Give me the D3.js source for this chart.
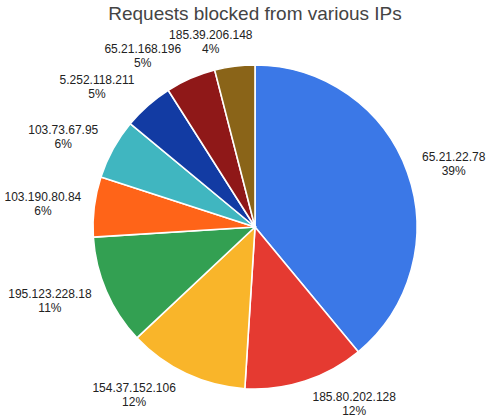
<!DOCTYPE html>
<html>
<head>
<meta charset="utf-8">
<script src="https://cdn.jsdelivr.net/npm/d3@7"></script>
<style>
  body { margin: 0; background: #fff; }
  text { font-family: Arial, 'Liberation Sans', sans-serif; }
</style>
</head>
<body>
<div id="chart"></div>
<script>
const title = 'Requests blocked from various IPs';
const ips = ['65.21.22.78', '185.80.202.128', '154.37.152.106', '195.123.228.18',
    '103.190.80.84', '103.73.67.95', '5.252.118.211', '65.21.168.196', '185.39.206.148'];
const shares = [39, 12, 12, 11, 6, 6, 5, 5, 4];
const colors = ['#3b78e7', '#e53a31', '#f9b52a', '#33a052', '#ff6418',
    '#40b6c0', '#123ba3', '#8f1818', '#8a6418'];

function drawPie() {
    const width = 489;
    const height = 420;
    const cx = 255;
    const cy = 227;
    const radius = 162;
    const labelRadius = 186;   // where the label block sits vertically
    const clearRadius = 174;   // labels are pulled in to hug this circle

    const data = ips.map((ip, i) => ({ ip, value: shares[i] }));
    const total = d3.sum(shares);

    const svg = d3.select('#chart').append('svg')
        .attr('width', width)
        .attr('height', height);

    svg.append('text')
        .attr('x', cx)
        .attr('y', 20)
        .attr('text-anchor', 'middle')
        .style('font-size', '19px')
        .style('fill', '#444')
        .text(title);

    const pie = d3.pie()
        .sort(null)
        .value((d) => d.value);

    const arc = d3.arc()
        .innerRadius(0)
        .outerRadius(radius);

    const color = d3.scaleOrdinal()
        .domain(ips)
        .range(colors);

    const g = svg.append('g')
        .attr('transform', `translate(${cx}, ${cy})`);

    const arcs = pie(data);

    g.selectAll('path')
        .data(arcs)
        .enter()
        .append('path')
        .attr('d', arc)
        .style('fill', (d) => color(d.data.ip))
        .style('stroke', '#fff')
        .style('stroke-width', 1.6);

    // labels: name + percent, placed outside the slice
    const labels = g.selectAll('g.label')
        .data(arcs)
        .enter()
        .append('g')
        .attr('class', 'label');

    labels.append('text')
        .attr('class', 'name')
        .attr('text-anchor', 'middle')
        .attr('y', -3)
        .style('font-size', '12px')
        .style('fill', '#222')
        .text((d) => d.data.ip);

    labels.append('text')
        .attr('text-anchor', 'middle')
        .attr('y', 11)
        .style('font-size', '12px')
        .style('fill', '#222')
        .text((d) => `${Math.round(100 * d.data.value / total)}%`);

    labels.attr('transform', function (d) {
        const a = (d.startAngle + d.endAngle) / 2;
        const s = Math.sin(a);
        const c = Math.cos(a);
        const hw = this.querySelector('text.name').getComputedTextLength() / 2;
        const hh = 14;
        const y = -c * labelRadius;
        let x = s * labelRadius + hw * Math.max(-1, Math.min(1, 4 * s));
        // nearest vertical gap of the box to the centre
        const y0 = y - hh;
        const y1 = y + hh;
        const dy = (y0 <= 0 && y1 >= 0) ? 0 : Math.min(Math.abs(y0), Math.abs(y1));
        const inner = Math.abs(x) - hw;
        if (inner > 0 && Math.hypot(inner, dy) > clearRadius && dy < clearRadius) {
            const need = Math.sqrt(clearRadius * clearRadius - dy * dy);
            x = Math.sign(x) * (need + hw);
        }
        return `translate(${x}, ${y})`;
    });
}

drawPie();
</script>
</body>
</html>
